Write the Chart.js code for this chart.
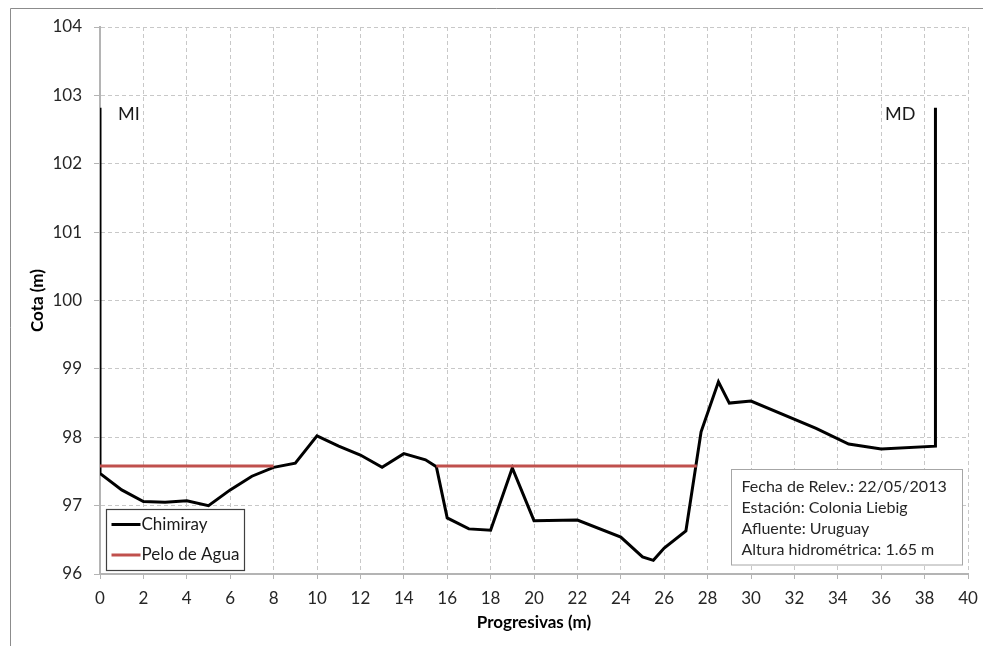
<!DOCTYPE html>
<html>
<head>
<meta charset="utf-8">
<title>Perfil transversal - Chimiray</title>
<script src="https://cdn.jsdelivr.net/npm/chart.js@4/dist/chart.umd.min.js"></script>
<style>
  html, body { margin: 0; padding: 0; background: #ffffff; }
  #wrap { width: 983px; height: 646px; position: relative; }
</style>
</head>
<body>
<div id="wrap"><canvas id="perfil" width="983" height="646"></canvas></div>
<script>
// Perfil del cauce: progresiva (m) y cota (m)
const progresivas = [0, 0, 1, 2, 3, 4, 5, 6, 7, 8, 9, 10, 11, 12, 13, 14, 15, 15.5, 16, 17, 18, 19, 20, 22, 24, 25, 25.5, 26, 27, 27.7, 28.5, 29, 30, 33, 34.5, 36, 38.5, 38.5];
const cotas = [102.82, 97.47, 97.23, 97.06, 97.05, 97.07, 97.0, 97.23, 97.43, 97.56, 97.62, 98.02, 97.87, 97.74, 97.56, 97.76, 97.67, 97.57, 96.82, 96.66, 96.64, 97.55, 96.78, 96.79, 96.54, 96.25, 96.2, 96.38, 96.63, 98.08, 98.81, 98.5, 98.53, 98.13, 97.9, 97.83, 97.87, 102.82];

// Pelo de agua (null separa los dos tramos)
const aguaX = [0, 8, 8, 15.5, 27.5];
const aguaY = [97.58, 97.58, null, 97.58, 97.58];

// Márgenes izquierda / derecha
const margenes = [
  { texto: 'MI', x: 0 },
  { texto: 'MD', x: 38.5 }
];

// Datos del relevamiento
const infoLineas = [
  'Fecha de Relev.: 22/05/2013',
  'Estación: Colonia Liebig',
  'Afluente: Uruguay',
  'Altura hidrométrica: 1.65 m'
];

const serieNombres = ['Chimiray', 'Pelo de Agua'];
const serieColores = ['#000000', '#c0504d'];

const FONT = 'Lato, "Open Sans", "DejaVu Sans", sans-serif';

const toPoints = (xs, ys) => xs.map((x, i) => ({ x: x, y: ys[i] }));

// Marco exterior, leyenda, recuadro de datos y rótulos de margen
const decoracion = {
  id: 'decoracion',
  beforeDraw(chart) {
    const ctx = chart.ctx;
    ctx.save();
    ctx.fillStyle = '#ffffff';
    ctx.fillRect(0, 0, chart.width, chart.height);
    ctx.strokeStyle = '#8c8c8c';
    ctx.lineWidth = 1;
    ctx.beginPath();
    ctx.moveTo(10.5, chart.height);
    ctx.lineTo(10.5, 8.5);
    ctx.lineTo(chart.width, 8.5);
    ctx.stroke();
    ctx.restore();
  },
  afterDatasetsDraw(chart) {
    const ctx = chart.ctx;
    const xs = chart.scales.x, ys = chart.scales.y;
    ctx.save();

    // rótulos MI / MD
    ctx.font = '18px ' + FONT;
    ctx.fillStyle = '#1a1a1a';
    ctx.textBaseline = 'middle';
    const yLbl = ys.getPixelForValue(102.72);
    ctx.textAlign = 'left';
    ctx.fillText(margenes[0].texto, xs.getPixelForValue(margenes[0].x) + 18, yLbl);
    ctx.textAlign = 'right';
    ctx.fillText(margenes[1].texto, xs.getPixelForValue(margenes[1].x) - 20, yLbl);

    // leyenda
    const lx = 106.5, ly = 509.5, lw = 138, lh = 61;
    ctx.fillStyle = '#ffffff';
    ctx.fillRect(lx, ly, lw, lh);
    ctx.strokeStyle = '#404040';
    ctx.lineWidth = 1.2;
    ctx.strokeRect(lx, ly, lw, lh);
    ctx.font = '17px ' + FONT;
    ctx.textAlign = 'left';
    ctx.textBaseline = 'middle';
    serieNombres.forEach((nombre, i) => {
      const yy = ly + 15 + i * 30.5;
      ctx.strokeStyle = serieColores[i];
      ctx.lineWidth = 3;
      ctx.beginPath();
      ctx.moveTo(lx + 5, yy);
      ctx.lineTo(lx + 34, yy);
      ctx.stroke();
      ctx.fillStyle = '#1a1a1a';
      ctx.fillText(nombre, lx + 35, yy);
    });

    // recuadro de datos
    const bx = 731.5, by = 469.5, bw = 231, bh = 95.5;
    ctx.fillStyle = '#ffffff';
    ctx.fillRect(bx, by, bw, bh);
    ctx.strokeStyle = '#a6a6a6';
    ctx.lineWidth = 1;
    ctx.strokeRect(bx, by, bw, bh);
    ctx.font = '16px ' + FONT;
    ctx.fillStyle = '#262626';
    infoLineas.forEach((t, i) => {
      ctx.fillText(t, bx + 10, by + 17 + i * 21);
    });

    ctx.restore();
  }
};

new Chart(document.getElementById('perfil'), {
  type: 'line',
  data: {
    datasets: [
      {
        label: serieNombres[0],
        data: toPoints(progresivas, cotas),
        borderColor: serieColores[0],
        borderWidth: 3,
        pointRadius: 0,
        tension: 0,
        fill: false,
        order: 1
      },
      {
        label: serieNombres[1],
        data: toPoints(aguaX, aguaY),
        borderColor: serieColores[1],
        borderWidth: 3,
        pointRadius: 0,
        tension: 0,
        fill: false,
        spanGaps: false,
        order: 0
      }
    ]
  },
  options: {
    responsive: false,
    animation: false,
    events: [],
    layout: { padding: { left: 10, right: 15, top: 27, bottom: 0 } },
    plugins: {
      legend: { display: false },
      tooltip: { enabled: false }
    },
    scales: {
      x: {
        type: 'linear',
        min: 0,
        max: 40,
        afterFit(scale) {
          scale.height = 72;
          // el margen lateral lo fija layout.padding
          scale.paddingLeft = 0;
          scale.paddingRight = 0;
        },
        ticks: {
          stepSize: 2,
          padding: 9,
          color: '#262626',
          font: { family: FONT, size: 17 },
          maxRotation: 0
        },
        grid: {
          color: '#c8c8c8',
          tickColor: '#b4b4b4',
          tickLength: 5,
          tickBorderDash: []
        },
        border: { color: '#b4b4b4', width: 2, dash: [4, 3] },
        title: {
          display: true,
          text: 'Progresivas (m)',
          color: '#000000',
          font: { family: FONT, size: 17, weight: 'bold' },
          padding: { top: 2, bottom: 13 }
        }
      },
      y: {
        min: 96,
        max: 104,
        afterFit(scale) {
          scale.width = 90;
          scale.paddingTop = 0;
          scale.paddingBottom = 0;
        },
        ticks: {
          stepSize: 1,
          padding: 12,
          color: '#262626',
          font: { family: FONT, size: 17 }
        },
        grid: {
          color: '#c8c8c8',
          tickColor: '#b4b4b4',
          tickLength: 6,
          tickBorderDash: []
        },
        border: { color: '#b4b4b4', width: 2, dash: [4, 3] },
        title: {
          display: true,
          text: 'Cota (m)',
          color: '#000000',
          font: { family: FONT, size: 17, weight: 'bold' },
          padding: { top: 17, bottom: 2 }
        }
      }
    }
  },
  plugins: [decoracion]
});
</script>
</body>
</html>
